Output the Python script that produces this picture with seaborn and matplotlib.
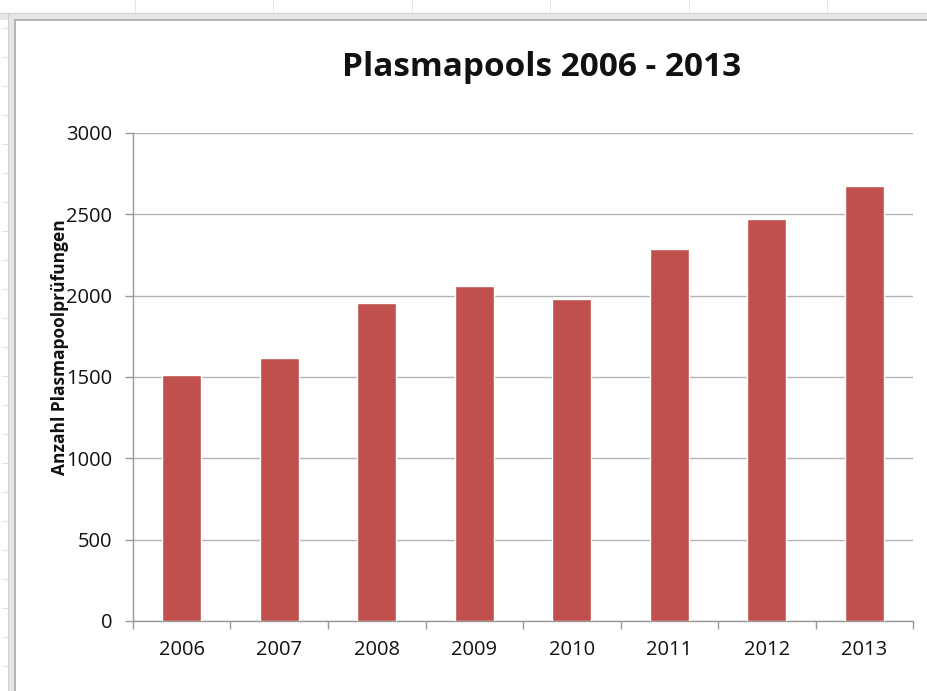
import matplotlib
matplotlib.use("Agg")
import matplotlib.pyplot as plt
from matplotlib.lines import Line2D
from matplotlib.patches import Rectangle
import seaborn as sns
import pandas as pd

# Annual number of plasma pool tests
years = ["2006", "2007", "2008", "2009", "2010", "2011", "2012", "2013"]
tests = [1512, 1617, 1955, 2060, 1980, 2285, 2470, 2677]
y_ticks = [0, 500, 1000, 1500, 2000, 2500, 3000]

title = "Plasmapools 2006 - 2013"
y_label = "Anzahl Plasmapoolprüfungen"

df = pd.DataFrame({"Jahr": years, "Anzahl": tests})

sns.set_theme(style="white")
plt.rcParams["font.family"] = ["Open Sans", "DejaVu Sans"]

W, H = 928, 691
fig = plt.figure(figsize=(W / 100, H / 100), dpi=100)

# spreadsheet frame around the chart object
def fx(px):
    return px / W

def fy(py):
    return 1 - py / H

frame_col = "#e6e6e6"
edge_col = "#a8a8a8"
fig.patches.append(Rectangle((0, fy(19.5)), 1, fy(12.5) - fy(19.5), transform=fig.transFigure,
                             facecolor=frame_col, edgecolor="none", zorder=0))
fig.patches.append(Rectangle((fx(8), 0), fx(15) - fx(8), fy(12.5), transform=fig.transFigure,
                             facecolor=frame_col, edgecolor="none", zorder=0))
fig.lines.append(Line2D([fx(15), 1], [fy(19.5), fy(19.5)], transform=fig.transFigure,
                        color=edge_col, lw=1.2))
fig.lines.append(Line2D([fx(15), fx(15)], [0, fy(19.5)], transform=fig.transFigure,
                        color=edge_col, lw=1.2))
fig.lines.append(Line2D([0, 1], [fy(12.5), fy(12.5)], transform=fig.transFigure,
                        color="#d0d0d0", lw=0.8))
fig.lines.append(Line2D([fx(8), fx(8)], [0, fy(12.5)], transform=fig.transFigure,
                        color="#d0d0d0", lw=0.8))
for xc in [135, 273, 412, 550, 689, 827]:
    fig.lines.append(Line2D([fx(xc), fx(xc)], [fy(0), fy(12.5)], transform=fig.transFigure,
                            color="#e4e4e4", lw=0.7))
for yc in [28, 57, 86, 115, 144, 173, 202, 231, 260, 289, 318, 347, 376, 405, 434, 463,
           492, 521, 550, 579, 608, 637, 666]:
    fig.lines.append(Line2D([fx(2), fx(8)], [fy(yc), fy(yc)], transform=fig.transFigure,
                            color="#e4e4e4", lw=0.7))

ax = fig.add_axes([133 / W, 1 - 621 / H, (913 - 133) / W, (621 - 133) / H])
ax.set_facecolor("none")

sns.barplot(data=df, x="Jahr", y="Anzahl", order=years, color="#C0504D",
            saturation=1, width=0.4, ax=ax, zorder=3)

ax.set_xlim(-0.5, len(years) - 0.5)
ax.set_ylim(0, 3000)
ax.set_yticks(y_ticks)
ax.set_yticklabels([str(v) for v in y_ticks])
ax.yaxis.grid(True, color="#b3b3b3", lw=1.0, zorder=0)
ax.set_axisbelow(True)

for side in ["top", "right"]:
    ax.spines[side].set_visible(False)
for side in ["left", "bottom"]:
    ax.spines[side].set_color("#999999")
    ax.spines[side].set_linewidth(1.0)

# category separators as tick marks between the bars
ax.set_xticks([i - 0.5 for i in range(len(years) + 1)], minor=True)
ax.tick_params(axis="x", which="minor", length=6, width=1, color="#999999", direction="out", bottom=True)
ax.tick_params(axis="x", which="major", length=0, pad=14, labelsize=14.5, labelcolor="#111111")
ax.tick_params(axis="y", which="major", length=6, width=1, color="#999999", direction="out",
               left=True, pad=9, labelsize=14.5, labelcolor="#111111")

ax.set_xlabel("")
ax.set_ylabel(y_label, fontsize=12.5, fontweight="bold", color="#111111")
ax.yaxis.set_label_coords((69 - 133) / (913 - 133), (621 - 347) / (621 - 133))

fig.text(542 / W, 1 - 68 / H, title, ha="center", va="center", fontsize=24,
         fontweight="bold", color="#111111")

fig.savefig("out.png", dpi=100)
